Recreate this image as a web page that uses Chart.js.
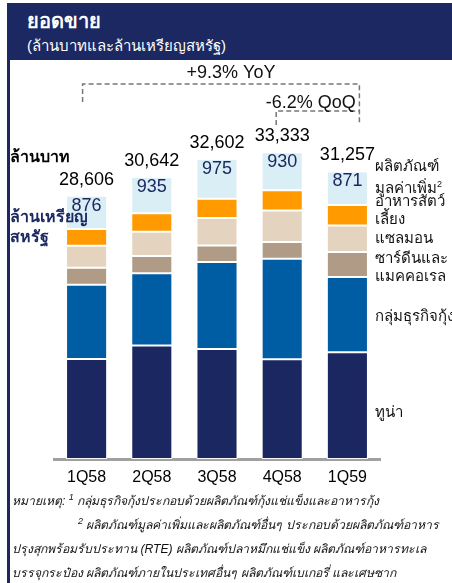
<!DOCTYPE html>
<html lang="th">
<head>
<meta charset="UTF-8">
<title>ยอดขาย</title>
<script src="https://cdn.jsdelivr.net/npm/chart.js@4.4.1/dist/chart.umd.min.js"></script>
<style>
  body { margin: 0; background: #fff; font-family: "Liberation Sans", Arial, sans-serif; }
  #wrap { position: relative; width: 452px; height: 583px; overflow: hidden; }
  #chartBox { position: absolute; left: 0; top: 0; width: 452px; height: 583px; }
  .abs { position: absolute; white-space: nowrap; }
  #head { left: 7px; top: 3px; width: 445px; height: 57px; background: #1b2862; }
  #bar { left: 7px; top: 3px; width: 3px; height: 580px; background: #1b2862; }
  #title { left: 27px; top: 5px; color: #fff; font-size: 20px; font-weight: bold; }
  #sub { left: 27px; top: 34px; color: #fff; font-size: 15px; }
  .side { left: 375px; font-size: 15px; color: #111; line-height: 18px; }
  .unit { left: 10px; font-size: 16px; font-weight: bold; line-height: 20px; }
  .note { font-size: 12.2px; font-style: italic; color: #111; }
  sup { font-size: 9px; }
</style>
</head>
<body>
<div id="wrap">
  <div id="chartBox"><canvas id="myChart"></canvas></div>
  <div class="abs" id="head"></div>
  <div class="abs" id="bar"></div>
  <div class="abs" id="title">ยอดขาย</div>
  <div class="abs" id="sub">(ล้านบาทและล้านเหรียญสหรัฐ)</div>

  <div class="abs unit" style="top:147px;color:#000">ล้านบาท</div>
  <div class="abs unit" style="top:207px;color:#1b2862">ล้านเหรียญ<br>สหรัฐ</div>

  <div class="abs side" style="top:157px">ผลิตภัณฑ์<br>มูลค่าเพิ่ม<sup>2</sup></div>
  <div class="abs side" style="top:192px">อาหารสัตว์<br>เลี้ยง</div>
  <div class="abs side" style="top:229px">แซลมอน</div>
  <div class="abs side" style="top:249px">ซาร์ดีนและ<br>แมคคอเรล</div>
  <div class="abs side" style="top:303px">กลุ่มธุรกิจกุ้ง<sup>1</sup></div>
  <div class="abs side" style="top:403px">ทูน่า</div>

  <div class="abs note" style="left:12px;top:491px">หมายเหตุ: <sup>1</sup> กลุ่มธุรกิจกุ้งประกอบด้วยผลิตภัณฑ์กุ้งแช่แข็งและอาหารกุ้ง</div>
  <div class="abs note" style="left:78px;top:515px"><sup>2</sup> ผลิตภัณฑ์มูลค่าเพิ่มและผลิตภัณฑ์อื่นๆ ประกอบด้วยผลิตภัณฑ์อาหาร</div>
  <div class="abs note" style="left:12px;top:539px">ปรุงสุกพร้อมรับประทาน (RTE) ผลิตภัณฑ์ปลาหมึกแช่แข็ง ผลิตภัณฑ์อาหารทะเล</div>
  <div class="abs note" style="left:12px;top:563px">บรรจุกระป๋อง ผลิตภัณฑ์ภายในประเทศอื่นๆ ผลิตภัณฑ์เบเกอรี่ และเศษซาก</div>
</div>
<script>
// ข้อมูล (ล้านบาท)
const quarters = ['1Q58', '2Q58', '3Q58', '4Q58', '1Q59'];
const tuna = [10880, 12350, 11970, 10850, 11610];
const shrimp = [8050, 7830, 9430, 10910, 8160];
const sardine = [1850, 1880, 1810, 1820, 2720];
const salmon = [2400, 2650, 2980, 3440, 2900];
const petFood = [1810, 1990, 2100, 2180, 2220];
const valueAdded = [3620, 3940, 4310, 4130, 3650];
const totalTHB = [28606, 30642, 32602, 33333, 31257];
const totalUSD = [876, 935, 975, 930, 871];
const yoyText = '+9.3% YoY';
const qoqText = '-6.2% QoQ';

const seg = (label, data, color) => ({
    label, data, backgroundColor: color,
    borderColor: 'rgba(255,255,255,0.95)', borderWidth: 1, borderSkipped: false,
    barPercentage: 0.63, categoryPercentage: 1
});

// ป้ายยอดรวม + วงเล็บ YoY/QoQ
const labelPlugin = {
    id: 'labels',
    afterDatasetsDraw(chart) {
        const ctx = chart.ctx;
        const top = chart.getDatasetMeta(chart.data.datasets.length - 1).data;
        ctx.save();
        ctx.textAlign = 'center';
        ctx.textBaseline = 'middle';
        top.forEach((el, i) => {
            ctx.font = '18px "Liberation Sans", Arial';
            ctx.fillStyle = '#000';
            ctx.fillText(totalTHB[i].toLocaleString('en-US'), el.x, el.y - 16);
            ctx.fillStyle = '#1b2862';
            ctx.fillText(String(totalUSD[i]), el.x, el.y + 10);
        });

        const xA = top[0].x - 4, xB = top[4].x + 12, xC = top[3].x - 6;
        ctx.strokeStyle = '#777';
        ctx.lineWidth = 1.5;
        ctx.setLineDash([5, 3]);
        ctx.beginPath();
        ctx.moveTo(xA, 102); ctx.lineTo(xA, 84); ctx.lineTo(xB, 84); ctx.lineTo(xB, 125);
        ctx.moveTo(xC, 125); ctx.lineTo(xC, 111); ctx.lineTo(xB, 111);
        ctx.stroke();
        ctx.setLineDash([]);
        ctx.fillStyle = '#111';
        ctx.font = '18px "Liberation Sans", Arial';
        ctx.fillText(yoyText, (xA + xB) / 2 + 10, 73);
        ctx.fillText(qoqText, (xC + xB) / 2 - 7, 103);
        ctx.restore();
    }
};

new Chart(document.getElementById('myChart'), {
    type: 'bar',
    data: {
        labels: quarters,
        datasets: [
            seg('ทูน่า', tuna, '#1a2761'),
            seg('กลุ่มธุรกิจกุ้ง', shrimp, '#005ca3'),
            seg('ซาร์ดีนและแมคคอเรล', sardine, '#b09b87'),
            seg('แซลมอน', salmon, '#e4d4bf'),
            seg('อาหารสัตว์เลี้ยง', petFood, '#ff9a00'),
            seg('ผลิตภัณฑ์มูลค่าเพิ่ม', valueAdded, '#daeef5')
        ]
    },
    options: {
        responsive: true,
        maintainAspectRatio: false,
        animation: false,
        layout: { padding: { left: 54, right: 72, top: 91, bottom: 94 } },
        plugins: { legend: { display: false }, tooltip: { enabled: false } },
        scales: {
            x: {
                stacked: true,
                grid: { display: false },
                border: { display: true, color: '#a0a0a0', width: 3 },
                ticks: { color: '#000', font: { size: 16, family: '"Liberation Sans", Arial' }, padding: 1 },
                afterFit: (scale) => { scale.height = 30; }
            },
            y: { stacked: true, display: false, min: 0, max: 40000 }
        }
    },
    plugins: [labelPlugin]
});
</script>
</body>
</html>
